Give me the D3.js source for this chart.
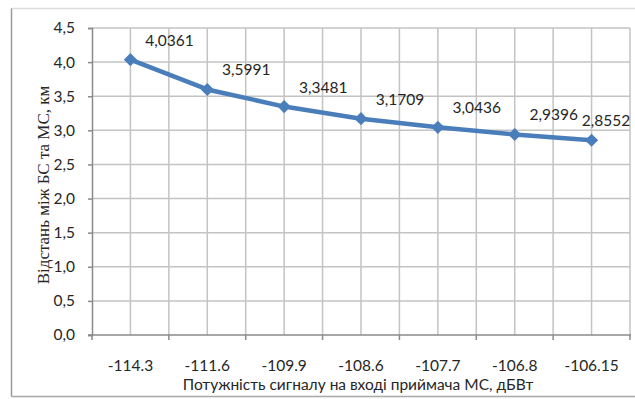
<!DOCTYPE html>
<html>
<head>
<meta charset="utf-8">
<script src="https://cdn.jsdelivr.net/npm/d3@7"></script>
<style>
  html, body { margin: 0; padding: 0; background: #fff; }
  svg { display: block; }
  text { font-family: Lato, "Noto Sans", "Open Sans", sans-serif; fill: #262626; }
</style>
</head>
<body>
<svg id="chart" width="635" height="399"></svg>
<script>
// Received signal power at the mobile station input, dBW
const categories = ["-114.3", "-111.6", "-109.9", "-108.6", "-107.7", "-106.8", "-106.15"];
// Distance between base station and mobile station, km
const distances = [4.0361, 3.5991, 3.3481, 3.1709, 3.0436, 2.9396, 2.8552];
const yTicks = [0, 0.5, 1.0, 1.5, 2.0, 2.5, 3.0, 3.5, 4.0, 4.5];
const xTitle = "Потужність сигналу на вході приймача МС, дБВт";
const yTitle = "Відстань між БС та МС, км";

const W = 635, H = 399;
const plot = { left: 92, right: 630, top: 28, bottom: 335 };

const uk = d3.formatLocale({ decimal: ",", thousands: " ", grouping: [3], currency: ["", " грн"] });
const fmtTick = uk.format(".1f");
const fmtVal = uk.format(".4f");

const svg = d3.select("#chart");

// Outer chart frame
const frame = svg.append("g");
frame.append("line").attr("x1", 11.5).attr("x2", W).attr("y1", 8.5).attr("y2", 8.5)
  .attr("stroke", "#dcdcdc").attr("stroke-width", 1.5);
frame.append("line").attr("x1", 11.5).attr("x2", 11.5).attr("y1", 8.5).attr("y2", 396.5)
  .attr("stroke", "#9a9a9a").attr("stroke-width", 1.5);
frame.append("line").attr("x1", 11.5).attr("x2", W).attr("y1", 396.5).attr("y2", 396.5)
  .attr("stroke", "#a8a8a8").attr("stroke-width", 1.5);

const x = d3.scaleBand().domain(categories).range([plot.left, plot.right]).paddingInner(0).paddingOuter(0);
const y = d3.scaleLinear().domain([0, 4.5]).range([plot.bottom, plot.top]);

// Gridlines: horizontal at each y tick, vertical at category centres and boundaries
const grid = svg.append("g").attr("stroke", "#c3c3c3").attr("stroke-width", 1.5);
grid.selectAll("line.h").data(yTicks.filter(v => v > 0)).join("line")
  .attr("class", "h")
  .attr("x1", plot.left).attr("x2", plot.right)
  .attr("y1", d => y(d)).attr("y2", d => y(d));
const vLines = [];
categories.forEach(c => {
  vLines.push(x(c) + x.bandwidth() / 2);
  vLines.push(x(c) + x.bandwidth());
});
grid.selectAll("line.v").data(vLines).join("line")
  .attr("class", "v")
  .attr("x1", d => d).attr("x2", d => d)
  .attr("y1", plot.top).attr("y2", plot.bottom);

// Y axis
const yAxis = svg.append("g")
  .attr("transform", `translate(${plot.left},0)`)
  .call(d3.axisLeft(y).tickValues(yTicks).tickFormat(fmtTick).tickSize(4).tickPadding(13));
yAxis.select(".domain").attr("stroke", "#8a8a8a").attr("stroke-width", 1.5);
yAxis.selectAll(".tick line").attr("stroke", "#8a8a8a").attr("stroke-width", 1.5);
yAxis.selectAll(".tick text").attr("font-size", 15.5).attr("fill", "#262626")
  .style("font-family", "Lato, 'Noto Sans', sans-serif");

// X axis: labels at category centres, tick marks at category boundaries
const xAxis = svg.append("g")
  .attr("transform", `translate(0,${plot.bottom})`)
  .call(d3.axisBottom(x).tickSize(0).tickPadding(25));
xAxis.select(".domain").remove();
xAxis.selectAll(".tick text").attr("font-size", 15.5).attr("fill", "#262626")
  .style("font-family", "Lato, 'Noto Sans', sans-serif");
const bounds = [plot.left].concat(categories.map(c => x(c) + x.bandwidth()));
xAxis.append("line").attr("x1", plot.left - 4).attr("x2", plot.right + 1)
  .attr("y1", 0).attr("y2", 0).attr("stroke", "#8a8a8a").attr("stroke-width", 1.5);
xAxis.selectAll("line.bt").data(bounds).join("line")
  .attr("class", "bt")
  .attr("x1", d => d).attr("x2", d => d).attr("y1", 0).attr("y2", 5)
  .attr("stroke", "#8a8a8a").attr("stroke-width", 1.5);

// Axis titles
svg.append("text")
  .attr("x", 358).attr("y", 390)
  .attr("text-anchor", "middle").attr("font-size", 15.5)
  .text(xTitle);
svg.append("text")
  .attr("transform", "translate(49,185) rotate(-90)")
  .attr("text-anchor", "middle").attr("font-size", 17)
  .style("font-family", "'Liberation Serif', 'Times New Roman', serif")
  .text(yTitle);

// Series line and diamond markers
const cx = d => x(d.cat) + x.bandwidth() / 2;
const pts = categories.map((c, i) => ({ cat: c, v: distances[i] }));
const blue = "#4a7ebb";
svg.append("path")
  .datum(pts)
  .attr("fill", "none").attr("stroke", blue).attr("stroke-width", 4.5)
  .attr("stroke-linejoin", "round")
  .attr("d", d3.line().x(cx).y(d => y(d.v)));
svg.selectAll("path.mk").data(pts).join("path")
  .attr("class", "mk")
  .attr("transform", d => `translate(${cx(d)},${y(d.v)})`)
  .attr("d", d3.symbol(d3.symbolDiamond2, 110)())
  .attr("fill", blue);

// Value labels, up and to the right, kept inside the plot area
svg.selectAll("text.val").data(pts).join("text")
  .attr("class", "val")
  .attr("font-size", 15.5).attr("text-anchor", "middle")
  .attr("x", d => Math.min(cx(d) + 39, plot.right - 24))
  .attr("y", d => y(d.v) - 14)
  .text(d => fmtVal(d.v));
</script>
</body>
</html>
